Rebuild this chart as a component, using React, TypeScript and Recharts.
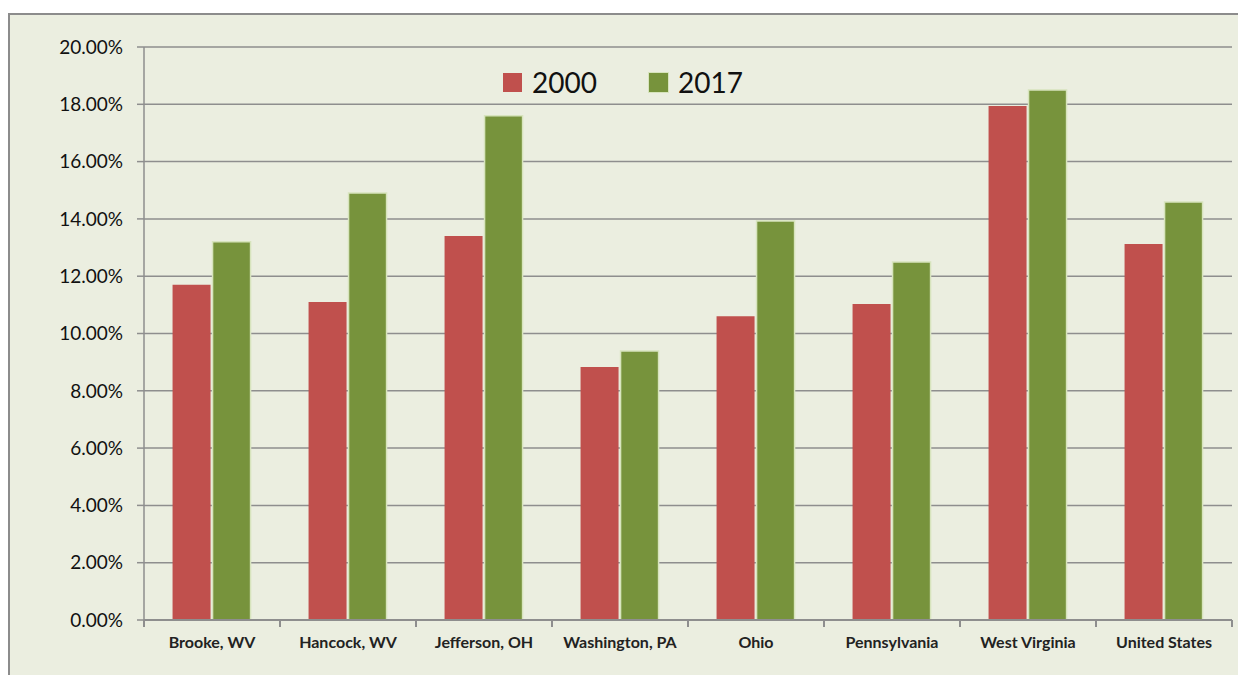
import { Bar, BarChart, CartesianGrid, XAxis, YAxis } from "recharts";

const categories = [
  "Brooke, WV",
  "Hancock, WV",
  "Jefferson, OH",
  "Washington, PA",
  "Ohio",
  "Pennsylvania",
  "West Virginia",
  "United States",
];
const values2000 = [0.117, 0.111, 0.134, 0.0883, 0.106, 0.1103, 0.1794, 0.1312];
const values2017 = [0.132, 0.149, 0.176, 0.0939, 0.1393, 0.125, 0.185, 0.1459];
const yTicks = [0, 0.02, 0.04, 0.06, 0.08, 0.1, 0.12, 0.14, 0.16, 0.18, 0.2];

const RED = "#C0504D";
const GREEN = "#77933C";
const GRID = "#8E8E8E";
const FONT = "Lato, 'Open Sans', sans-serif";

const data = categories.map((name, i) => ({
  name,
  y2000: values2000[i],
  y2017: values2017[i],
}));

const legendItems = [
  { label: "2000", color: RED },
  { label: "2017", color: GREEN },
];

// category label plus tick marks on the band edges (Excel style)
function CategoryTick(props: any) {
  const { x, y, payload, index, visibleTicksCount, width } = props;
  const half = payload?.offset || width / visibleTicksCount / 2;
  const isLast = index === visibleTicksCount - 1;
  return (
    <g>
      <path d={`M${x - half},${y}v7`} stroke={GRID} strokeWidth={2} fill="none" />
      {isLast && <path d={`M${x + half},${y}v7`} stroke={GRID} strokeWidth={2} fill="none" />}
      <text
        x={x}
        y={y + 28}
        textAnchor="middle"
        fill="#222"
        fontSize={16}
        fontWeight={700}
        fontFamily={FONT}
      >
        {payload.value}
      </text>
    </g>
  );
}

function ChartLegend() {
  return (
    <div
      style={{
        position: "absolute",
        top: 67,
        left: 4,
        width: 1238,
        display: "flex",
        justifyContent: "center",
        gap: 52,
        fontFamily: FONT,
      }}
    >
      {legendItems.map((it) => (
        <div key={it.label} style={{ display: "flex", alignItems: "center" }}>
          <span
            style={{
              display: "inline-block",
              width: 19,
              height: 19,
              background: it.color,
              marginRight: 10,
              boxShadow: it.color === GREEN ? "0 0 0 1px #D7E4BD" : "none",
            }}
          />
          <span style={{ fontSize: 28, color: "#111", lineHeight: "30px" }}>{it.label}</span>
        </div>
      ))}
    </div>
  );
}

export default function App() {
  return (
    <div
      style={{
        position: "fixed",
        top: 0,
        left: 0,
        width: 1238,
        height: 675,
        background: "#fff",
        overflow: "hidden",
      }}
    >
      <div
        style={{
          position: "absolute",
          left: 8,
          top: 13,
          width: 1260,
          height: 700,
          border: "2px solid #8C8C8C",
          background: "#EBEEE0",
        }}
      />
      <div style={{ position: "absolute", left: 0, top: 0 }}>
        <BarChart
          width={1238}
          height={675}
          data={data}
          margin={{ top: 47, right: 6, left: 0, bottom: 15 }}
          barCategoryGap="21%"
          barGap={2}
        >
          <CartesianGrid horizontal vertical={false} stroke={GRID} strokeWidth={1.5} />
          <XAxis
            dataKey="name"
            height={40}
            axisLine={{ stroke: GRID, strokeWidth: 2 }}
            tickLine={false}
            tickSize={0}
            tickMargin={0}
            interval={0}
            tick={<CategoryTick />}
          />
          <YAxis
            width={144}
            domain={[0, 0.2]}
            ticks={yTicks}
            tickFormatter={(v: number) => (v * 100).toFixed(2) + "%"}
            tickSize={7}
            tickMargin={14}
            axisLine={{ stroke: GRID, strokeWidth: 1.5 }}
            tickLine={{ stroke: GRID, strokeWidth: 1.5 }}
            tick={{ fill: "#111", fontSize: 19, fontFamily: FONT }}
          />
          <Bar dataKey="y2000" name="2000" fill={RED} isAnimationActive={false} />
          <Bar
            dataKey="y2017"
            name="2017"
            fill={GREEN}
            stroke="#D7E4BD"
            strokeWidth={1.5}
            isAnimationActive={false}
          />
        </BarChart>
      </div>
      <ChartLegend />
    </div>
  );
}
